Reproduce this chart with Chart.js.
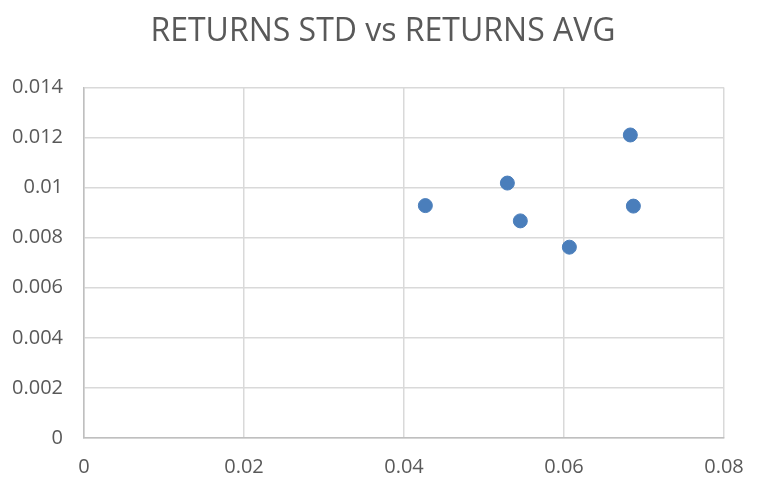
<!DOCTYPE html>
<html>
<head>
<meta charset="utf-8">
<script src="https://cdn.jsdelivr.net/npm/chart.js@4/dist/chart.umd.min.js"></script>
<style>
    html, body { margin: 0; padding: 0; background: #ffffff; }
    #wrap { width: 766px; height: 494px; }
</style>
</head>
<body>
<div id="wrap"><canvas id="chart"></canvas></div>
<script>
// returns average (x) and returns std (y)
const returnsAvg = [0.04267, 0.05292, 0.05454, 0.06067, 0.06829, 0.06867];
const returnsStd = [0.00928, 0.01018, 0.00867, 0.00762, 0.0121, 0.00926];

const xTicks = [0, 0.02, 0.04, 0.06, 0.08];
const yTicks = [0, 0.002, 0.004, 0.006, 0.008, 0.01, 0.012, 0.014];

const textColor = '#595959';
const gridColor = '#d9d9d9';
const fontFamily = '"Open Sans", "Liberation Sans", sans-serif';

const points = returnsAvg.map((x, i) => ({ x, y: returnsStd[i] }));

new Chart(document.getElementById('chart'), {
    type: 'scatter',
    data: {
        datasets: [{
            label: 'RETURNS STD',
            data: points,
            backgroundColor: '#4a7ebb',
            borderColor: '#4a7ebb',
            pointRadius: 7,
            pointHoverRadius: 7
        }]
    },
    options: {
        responsive: true,
        maintainAspectRatio: false,
        animation: false,
        layout: {
            padding: 0
        },
        plugins: {
            legend: { display: false },
            tooltip: { enabled: false },
            title: {
                display: true,
                text: 'RETURNS STD vs RETURNS AVG',
                color: textColor,
                font: { family: fontFamily, size: 32, weight: 'normal' },
                padding: { top: 13, bottom: 36 }
            }
        },
        scales: {
            x: {
                type: 'linear',
                min: 0,
                max: 0.08,
                afterBuildTicks: scale => {
                    scale.ticks = xTicks.map(v => ({ value: v }));
                },
                afterFit: scale => { scale.height = 56; },
                grid: { color: gridColor, lineWidth: 1.5, drawTicks: false },
                border: { color: '#bfbfbf', width: 1.5 },
                ticks: {
                    color: textColor,
                    font: { family: fontFamily, size: 20 },
                    padding: 17,
                    maxRotation: 0,
                    callback: v => String(v)
                }
            },
            y: {
                type: 'linear',
                min: 0,
                max: 0.014,
                afterBuildTicks: scale => {
                    scale.ticks = yTicks.map(v => ({ value: v }));
                },
                afterFit: scale => { scale.width = 84; },
                grid: { color: gridColor, lineWidth: 1.5, drawTicks: false },
                border: { color: '#bfbfbf', width: 1.5 },
                ticks: {
                    color: textColor,
                    font: { family: fontFamily, size: 20 },
                    padding: 21,
                    callback: v => String(v)
                }
            },
            // empty right-hand axis, only keeps the right margin so the title stays centred on the page
            spacer: {
                type: 'linear',
                position: 'right',
                min: 0,
                max: 0.014,
                afterFit: scale => { scale.width = 42; },
                grid: { display: false, drawTicks: false },
                border: { display: false },
                ticks: { display: false }
            }
        }
    }
});
</script>
</body>
</html>
